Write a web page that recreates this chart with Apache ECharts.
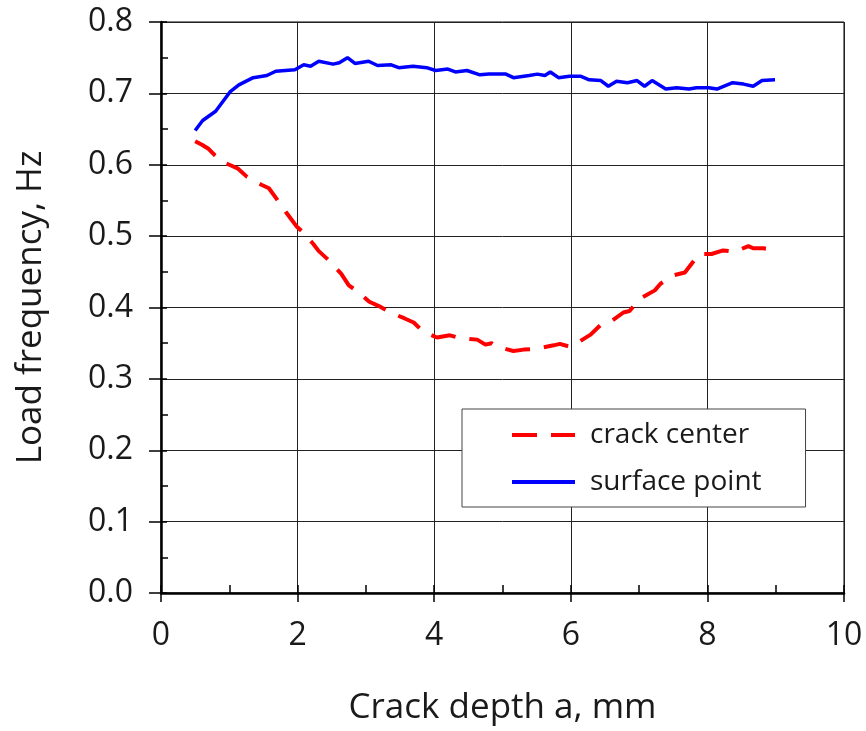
<!DOCTYPE html>
<html>
<head>
<meta charset="utf-8">
<script src="https://cdn.jsdelivr.net/npm/echarts@6/dist/echarts.min.js"></script>
<style>html,body{margin:0;padding:0;background:#fff;}#c{width:866px;height:731px;}</style>
</head>
<body>
<div id="c"></div>
<script>
// Crack center (red dashed)
const centerX = [0.50,0.60,0.70,0.79,0.90,1.00,1.12,1.26,1.37,1.47,1.58,1.71,1.85,1.99,2.06,2.23,2.31,2.47,2.64,2.75,2.87,3.05,3.19,3.36,3.56,3.70,3.84,4.04,4.23,4.38,4.63,4.75,4.84,4.92,5.16,5.31,5.49,5.75,5.84,5.99,6.07,6.29,6.43,6.57,6.77,6.86,7.01,7.23,7.31,7.50,7.67,7.88,8.06,8.23,8.40,8.60,8.67,8.82,8.94,9.00];
const centerY = [0.633,0.628,0.622,0.613,0.604,0.600,0.595,0.583,0.577,0.572,0.567,0.550,0.531,0.513,0.507,0.489,0.479,0.465,0.447,0.431,0.423,0.408,0.402,0.393,0.385,0.379,0.366,0.358,0.361,0.357,0.355,0.348,0.350,0.345,0.339,0.341,0.342,0.347,0.349,0.345,0.349,0.362,0.375,0.379,0.393,0.395,0.412,0.424,0.433,0.445,0.449,0.475,0.475,0.480,0.478,0.486,0.483,0.483,0.481,0.482];
// Surface point (blue solid)
const surfX = [0.50,0.61,0.80,1.01,1.14,1.35,1.55,1.68,1.96,2.09,2.19,2.31,2.52,2.61,2.73,2.84,3.04,3.17,3.37,3.48,3.69,3.89,4.02,4.20,4.31,4.48,4.67,4.80,5.05,5.16,5.39,5.51,5.62,5.70,5.82,5.98,6.14,6.27,6.44,6.55,6.67,6.83,6.97,7.08,7.19,7.39,7.55,7.73,7.84,8.02,8.14,8.37,8.53,8.67,8.80,8.99];
const surfY = [0.648,0.662,0.675,0.702,0.712,0.722,0.725,0.731,0.733,0.740,0.738,0.745,0.741,0.743,0.750,0.742,0.745,0.739,0.740,0.736,0.738,0.736,0.732,0.734,0.730,0.732,0.726,0.727,0.727,0.722,0.725,0.727,0.725,0.730,0.722,0.724,0.724,0.719,0.718,0.710,0.717,0.715,0.718,0.710,0.718,0.706,0.708,0.706,0.708,0.708,0.706,0.715,0.713,0.710,0.718,0.719];
const seriesNames = ['crack center','surface point'];
const xTitle = 'Crack depth a, mm';
const yTitle = 'Load frequency, Hz';

const FONT = '"Open Sans", sans-serif';
const chart = echarts.init(document.getElementById('c'), null, {renderer:'canvas'});
const zip = (a,b) => a.map((v,i)=>[v,b[i]]);

const xBase = {type:'value', min:0, max:10, interval:2, position:'bottom'};
const yBase = {type:'value', min:0, max:0.8, interval:0.1, position:'left'};

chart.setOption({
  backgroundColor:'#fff',
  animation:false,
  grid:{left:161, right:22, top:22, bottom:133, show:true, borderColor:'#000', borderWidth:1, containLabel:false},
  xAxis:[
    Object.assign({}, xBase, {
      name:xTitle, nameLocation:'middle', nameGap:98,
      nameTextStyle:{fontFamily:FONT, fontSize:35, color:'#1a1a1a'},
      axisLine:{show:true, onZero:false, lineStyle:{color:'#000', width:2.5}},
      axisTick:{show:true, inside:false, length:9, lineStyle:{color:'#000', width:1.5}},
      axisLabel:{show:true, margin:27, fontFamily:FONT, fontSize:32, color:'#1a1a1a'},
      splitLine:{show:true, lineStyle:{color:'#222', width:1}}
    }),
    Object.assign({}, xBase, {
      axisLine:{show:false},
      axisTick:{show:true, inside:true, length:8, lineStyle:{color:'#000', width:1.5}},
      minorTick:{show:true, splitNumber:2, length:8, lineStyle:{color:'#000', width:1.5}},
      axisLabel:{show:false},
      splitLine:{show:false}
    })
  ],
  yAxis:[
    Object.assign({}, yBase, {
      name:yTitle, nameLocation:'middle', nameGap:112,
      nameTextStyle:{fontFamily:FONT, fontSize:35, color:'#1a1a1a'},
      axisLine:{show:true, onZero:false, lineStyle:{color:'#000', width:2.5}},
      axisTick:{show:true, inside:false, length:12, lineStyle:{color:'#000', width:1.5}},
      axisLabel:{show:true, margin:28, fontFamily:FONT, fontSize:32, color:'#1a1a1a', formatter:v=>v.toFixed(1)},
      splitLine:{show:true, lineStyle:{color:'#222', width:1}}
    }),
    Object.assign({}, yBase, {
      axisLine:{show:false},
      axisTick:{show:true, inside:true, length:6, lineStyle:{color:'#000', width:1.5}},
      minorTick:{show:true, splitNumber:2, length:7, lineStyle:{color:'#000', width:1.5}},
      axisLabel:{show:false},
      splitLine:{show:false}
    })
  ],
  legend:{
    orient:'vertical', left:462, top:409,
    padding:[10,44,9,48], itemGap:15, itemWidth:63, itemHeight:14,
    backgroundColor:'#fff', borderColor:'#444', borderWidth:1,
    itemStyle:{opacity:0, borderWidth:0},
    lineStyle:{width:4},
    textStyle:{fontFamily:FONT, fontSize:28, color:'#1a1a1a', lineHeight:32, padding:[0,0,0,10]},
    data:seriesNames
  },
  series:[
    {name:seriesNames[0], type:'line', xAxisIndex:0, yAxisIndex:0, data:zip(centerX,centerY),
     symbol:'none', smooth:false, z:3,
     lineStyle:{color:'#ff0000', width:4, type:[25,14]}, itemStyle:{color:'#ff0000'}},
    {name:seriesNames[1], type:'line', xAxisIndex:0, yAxisIndex:0, data:zip(surfX,surfY),
     symbol:'none', smooth:false, z:3,
     lineStyle:{color:'#0000ff', width:3.5}, itemStyle:{color:'#0000ff'}}
  ]
});
</script>
</body>
</html>
